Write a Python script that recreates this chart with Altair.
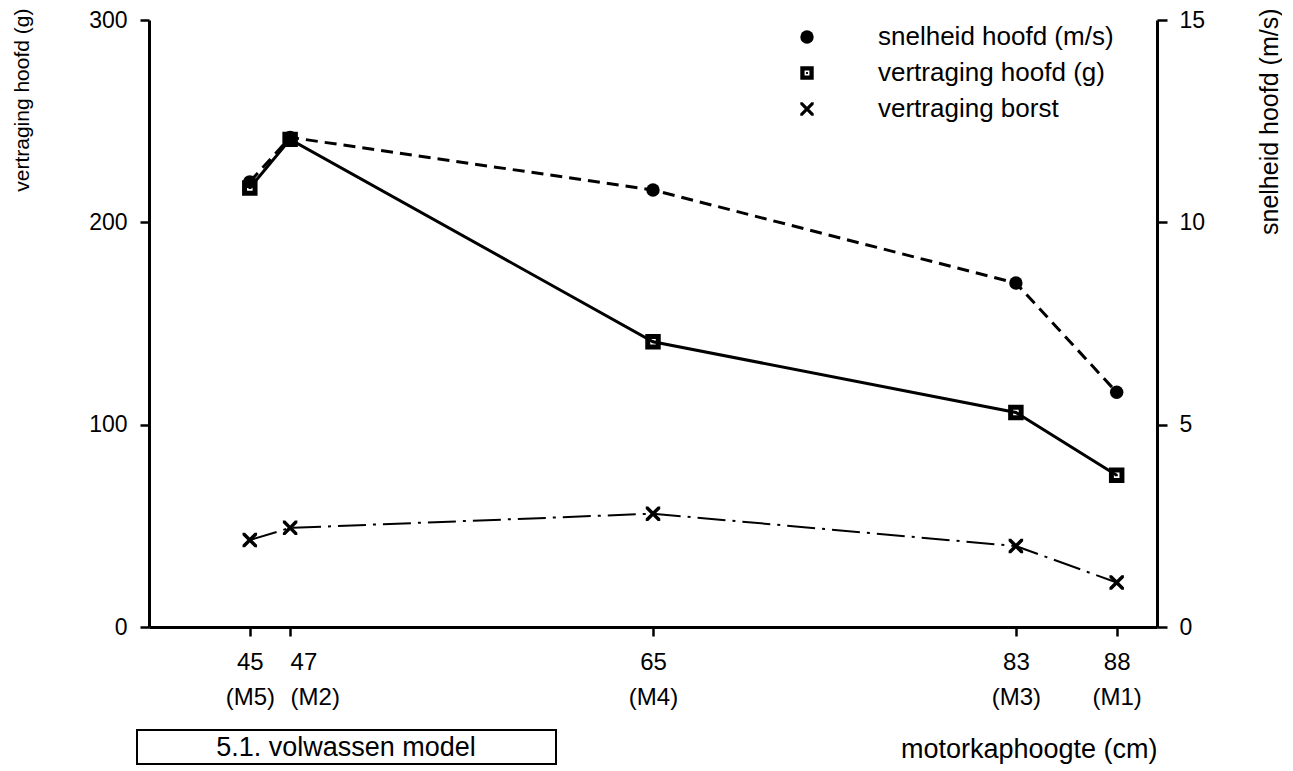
import altair as alt
import pandas as pd

# ---- data ----
x_cm = [45, 47, 65, 83, 88]
x_models = ["(M5)", "(M2)", "(M4)", "(M3)", "(M1)"]
speed_ms = [11.0, 12.1, 10.8, 8.5, 5.8]      # snelheid hoofd (m/s), right axis
head_g = [217, 241, 141, 106, 75]            # vertraging hoofd (g), left axis
chest_g = [43, 49, 56, 40, 22]               # vertraging borst (g), left axis

series_names = ["snelheid hoofd (m/s)", "vertraging hoofd (g)", "vertraging borst"]
left_ticks = [0, 100, 200, 300]
right_ticks = [0, 5, 10, 15]

left_title = "vertraging hoofd (g)"
right_title = "snelheid hoofd (m/s)"
x_title = "motorkaphoogte (cm)"
box_label = "5.1. volwassen model"

rows = []
for name, vals in zip(series_names, [speed_ms, head_g, chest_g]):
    for xv, v in zip(x_cm, vals):
        rows.append({"series": name, "x": xv, "v": v})
df = pd.DataFrame(rows)

FONT = "Liberation Sans"
W, H = 1008, 607

square_ring = ("M-1,-1H1V1H-1Z "
               "M-0.36,-0.36V0.36H0.36V-0.36Z "
               "M-0.14,-0.14H0.14V0.14H-0.14Z")
d = 0.34
x_path = (f"M-1,-1L{-1+d},-1L0,{-d}L{1-d},-1L1,-1L1,{-1+d}L{d},0L1,{1-d}L1,1"
          f"L{1-d},1L0,{d}L{-1+d},1L-1,1L-1,{1-d}L{-d},0L-1,{-1+d}Z")

shape_scale = alt.Scale(domain=series_names, range=["circle", square_ring, x_path])

legend = alt.Legend(orient="none", legendX=645, legendY=4, title=None,
                    labelFontSize=26, labelFont=FONT, labelColor="black",
                    labelOffset=58, rowPadding=10, symbolSize=180,
                    symbolStrokeWidth=0, symbolFillColor="black",
                    labelLimit=600, padding=0)

model_expr = "''"
for xv, m in zip(reversed(x_cm), reversed(x_models)):
    model_expr = f"(datum.value == {xv} ? '{m}' : {model_expr})"
label_expr = f"[datum.label, {model_expr}]"

X = alt.X("x:Q",
          scale=alt.Scale(domain=[40, 90], nice=False, zero=False),
          axis=alt.Axis(values=x_cm, labelExpr=label_expr, tickSize=9,
                        labelFontSize=24, labelLineHeight=35, labelPadding=14,
                        labelOverlap=False, labelFlush=False, labelBound=False,
                        labelAlign={"condition": {"test": "datum.value == 47", "value": "left"},
                                    "value": "center"},
                        title=x_title, titleFontSize=27, titleFontWeight="normal",
                        titleX=W, titleY=130, titleAlign="right",
                        titleBaseline="alphabetic"))

Y_left = alt.Y("v:Q",
               scale=alt.Scale(domain=[0, 300], nice=False),
               axis=alt.Axis(orient="left", values=left_ticks, tickSize=9,
                             labelFontSize=23, labelPadding=13,
                             title=left_title, titleFontSize=21,
                             titleFontWeight="normal", titleAngle=270,
                             titleAlign="right", titleBaseline="alphabetic",
                             titleX=-121, titleY=-12))

Y_right = alt.Y("v:Q",
                scale=alt.Scale(domain=[0, 15], nice=False),
                axis=alt.Axis(orient="right", values=right_ticks, tickSize=10,
                              labelFontSize=23, labelPadding=12,
                              title=right_title, titleFontSize=25,
                              titleFontWeight="normal", titleAngle=270,
                              titleAlign="right", titleBaseline="alphabetic",
                              titleX=120, titleY=-12))

base = alt.Chart(df)
shape_enc = alt.Shape("series:N", scale=shape_scale, legend=legend)

head_line = base.transform_filter(alt.datum.series == series_names[1]).mark_line(
    color="black", strokeWidth=3).encode(x=X, y=Y_left)
chest_line = base.transform_filter(alt.datum.series == series_names[2]).mark_line(
    color="black", strokeWidth=2, strokeDash=[28, 7, 3, 7]).encode(x=X, y=Y_left)
head_points = base.transform_filter(alt.datum.series == series_names[1]).mark_point(
    filled=True, color="black", opacity=1, strokeWidth=0, size=240).encode(
    x=X, y=Y_left, shape=shape_enc)
chest_points = base.transform_filter(alt.datum.series == series_names[2]).mark_point(
    filled=True, color="black", opacity=1, strokeWidth=0, size=210).encode(
    x=X, y=Y_left, shape=shape_enc)

speed_line = base.transform_filter(alt.datum.series == series_names[0]).mark_line(
    color="black", strokeWidth=3, strokeDash=[12, 7]).encode(x=X, y=Y_right)
speed_points = base.transform_filter(alt.datum.series == series_names[0]).mark_point(
    filled=True, color="black", opacity=1, strokeWidth=0, size=180).encode(
    x=X, y=Y_right, shape=shape_enc)

left_group = alt.layer(head_line, chest_line, head_points, chest_points)
right_group = alt.layer(speed_line, speed_points)

box_df = pd.DataFrame({"t": [box_label]})
box_rect = alt.Chart(box_df).mark_rect(fill="white", stroke="black", strokeWidth=2).encode(
    x=alt.value(-12), x2=alt.value(407), y=alt.value(710), y2=alt.value(744))
box_text = alt.Chart(box_df).mark_text(fontSize=27, font=FONT, color="black",
                                       baseline="middle", align="center").encode(
    text="t:N", x=alt.value(197), y=alt.value(728))

chart = alt.layer(left_group, right_group, box_rect, box_text).resolve_scale(
    y="independent").properties(
    width=W, height=H,
    padding={"left": 3, "top": 0, "right": 0, "bottom": 0}
).configure(font=FONT).configure_view(stroke=None).configure_axis(
    domainColor="black", domainWidth=3, tickColor="black", tickWidth=2.5,
    labelColor="black", titleColor="black", labelFont=FONT, titleFont=FONT,
    grid=False)

chart.save("out.html", embed_options={"renderer": "svg", "actions": False})
